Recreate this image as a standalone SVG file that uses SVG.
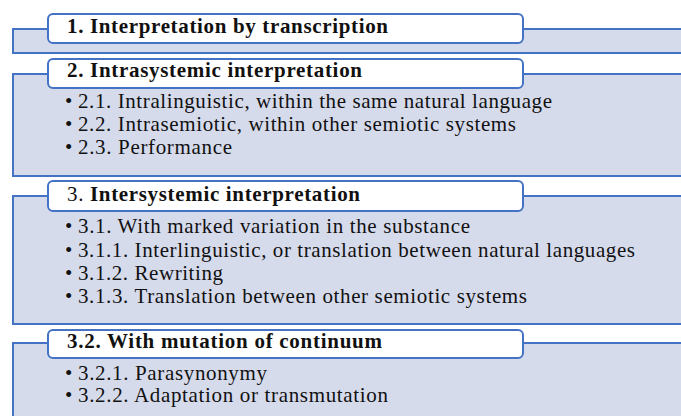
<svg xmlns="http://www.w3.org/2000/svg" width="681" height="416" viewBox="0 0 681 416">
<style>
.bg{fill:#d6dbec;stroke:#4472c4;stroke-width:2}
.lb{fill:#ffffff;stroke:#4472c4;stroke-width:2}
text{font-family:'Liberation Serif','Times New Roman','DejaVu Serif',serif;font-size:21px;fill:#111}
.b{font-weight:bold}
</style>
<rect width="681" height="416" fill="#ffffff"/>
<g id="n1">
<rect class="bg" x="13" y="29" width="680" height="24"/>
<rect class="lb" x="48" y="14" width="475" height="29" rx="5"/>
<text class="b" x="67" y="33" textLength="321" lengthAdjust="spacing">1. Interpretation by transcription</text>
</g>
<g id="n2">
<rect class="bg" x="13" y="74" width="680" height="102"/>
<rect class="lb" x="48" y="59" width="475" height="29" rx="5"/>
<text class="b" x="67" y="77" textLength="295" lengthAdjust="spacing">2. Intrasystemic interpretation</text>
<text x="65" y="108">•</text><text x="78" y="108" textLength="474" lengthAdjust="spacing">2.1. Intralinguistic, within the same natural language</text>
<text x="65" y="131">•</text><text x="78" y="131" textLength="438" lengthAdjust="spacing">2.2. Intrasemiotic, within other semiotic systems</text>
<text x="65" y="154">•</text><text x="78" y="154" textLength="154" lengthAdjust="spacing">2.3. Performance</text>
</g>
<g id="n3">
<rect class="bg" x="13" y="196" width="680" height="128"/>
<rect class="lb" x="48" y="181" width="475" height="30" rx="5"/>
<text x="67" y="201" textLength="293" lengthAdjust="spacing">3. <tspan class="b">Intersystemic interpretation</tspan></text>
<text x="65" y="233">•</text><text x="78" y="233" textLength="392" lengthAdjust="spacing">3.1. With marked variation in the substance</text>
<text x="65" y="257">•</text><text x="78" y="257" textLength="557" lengthAdjust="spacing">3.1.1. Interlinguistic, or translation between natural languages</text>
<text x="65" y="280">•</text><text x="78" y="280" textLength="145" lengthAdjust="spacing">3.1.2. Rewriting</text>
<text x="65" y="303">•</text><text x="78" y="303" textLength="449" lengthAdjust="spacing">3.1.3. Translation between other semiotic systems</text>
</g>
<g id="n4">
<rect class="bg" x="13" y="343" width="680" height="90"/>
<rect class="lb" x="48" y="330" width="475" height="28" rx="5"/>
<text class="b" x="67" y="348" textLength="315" lengthAdjust="spacing">3.2. With mutation of continuum</text>
<text x="65" y="380">•</text><text x="78" y="380" textLength="189" lengthAdjust="spacing">3.2.1. Parasynonymy</text>
<text x="65" y="402">•</text><text x="78" y="402" textLength="310" lengthAdjust="spacing">3.2.2. Adaptation or transmutation</text>
</g>
<g id="connectors"></g>
</svg>
